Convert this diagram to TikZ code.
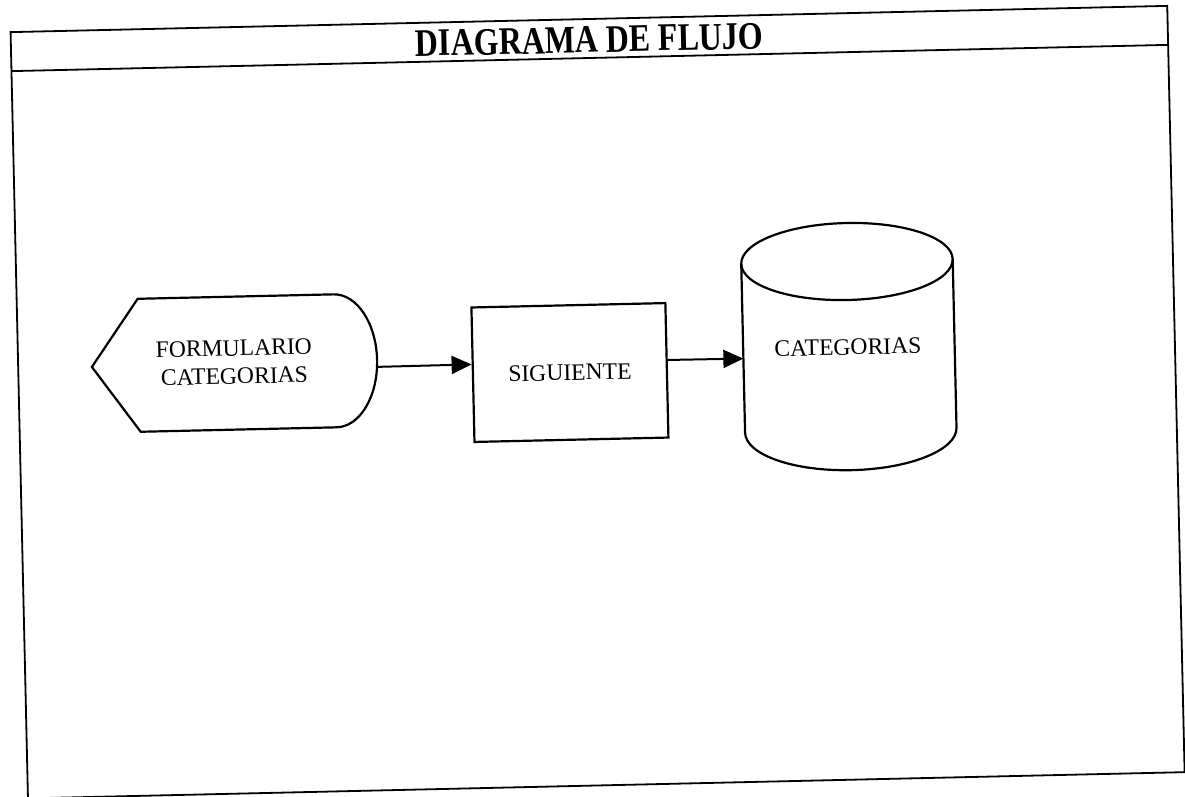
\documentclass[tikz,border=0pt]{standalone}
\usepackage{fontspec}
\setmainfont{Liberation Serif}
\newfontfamily\titlefont{Liberation Serif Bold}[FakeStretch=0.82]
\usetikzlibrary{arrows.meta}

\begin{document}
\begin{tikzpicture}[x=1pt,y=-1pt,font=\fontsize{23.6}{28}\selectfont]
  \tikzstyle{linea}=[line width=2.2pt,black]
  \tikzstyle{flecha}=[line width=2pt,black,-{Triangle[length=20pt,width=18pt]}]
  \tikzstyle{txt}=[align=center,inner sep=0pt]
  \tikzstyle{caja}=[linea,draw,minimum width=194pt,minimum height=134.5pt,inner sep=0pt]
  \tikzstyle{marco}=[line width=1.8pt,black]
  \tikzstyle{titulo}=[inner sep=0pt,font=\titlefont\fontsize{39}{44}\selectfont]

  \useasboundingbox (0,0) rectangle (1185,796);
  \fill[white] (0,0) rectangle (1185,796);
  \clip (0,0) rectangle (1185,796);

  \begin{scope}[rotate around={1.3:(592.5,398)},transform shape]
  % frame and title bar
  \draw[marco] (19,19) rectangle (1176,785.5);
  \draw[marco] (19,58) -- (1176,58);
  \node[titulo,anchor=base] (titulo) at (597.5,52.5) {DIAGRAMA DE FLUJO};

  % display on the left
  \node[txt] (form) at (235,354) {FORMULARIO\\CATEGORIAS};
  \draw[linea] (92.7,355.6) -- (140,288.5) -- (336,288.5)
    arc[start angle=90,end angle=-90,x radius=42pt,y radius=66.5pt]
    -- (140,421.5) -- cycle;
  \coordinate (formOut) at (377.8,362);

  % process box in the middle
  \node[caja] (sig) at (570.5,372) {SIGUIENTE};

  % cylinder on the right
  \draw[linea] (850,267.3) ellipse [x radius=105.75pt,y radius=38.5pt];
  \draw[linea] (744.25,267.3) -- (744.25,436)
    arc[start angle=180,end angle=360,x radius=105.75pt,y radius=40pt]
    -- (955.75,267.3);
  \node[txt] (cat) at (849,353) {CATEGORIAS};
  \coordinate (catIn) at (744.25,362);

  % arrows
  \draw[flecha] (formOut) -- (sig.174);
  \draw[flecha] (sig.6) -- (catIn);
  \end{scope}
\end{tikzpicture}
\end{document}
